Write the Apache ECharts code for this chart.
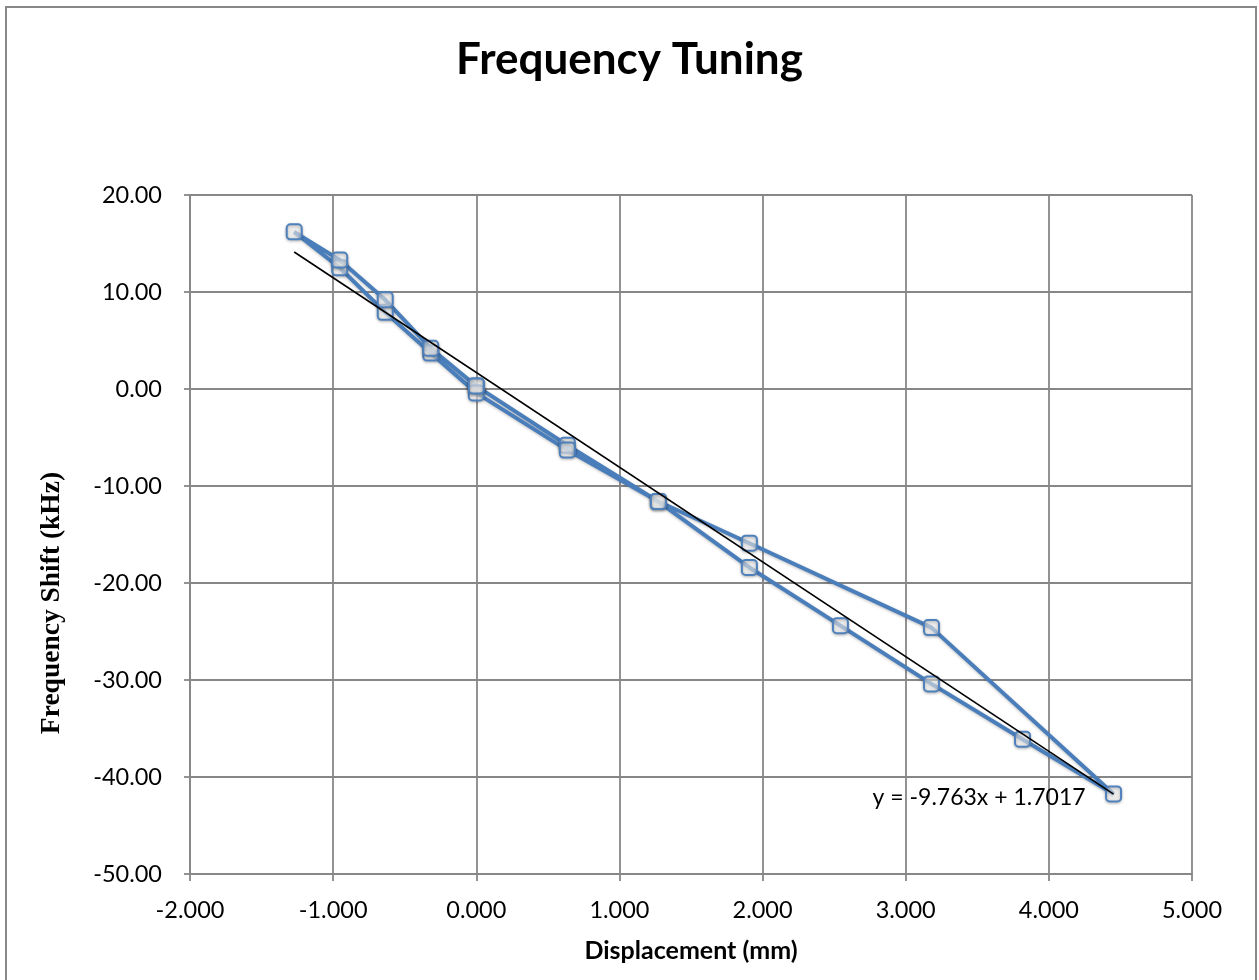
<!DOCTYPE html>
<html>
<head>
<meta charset="utf-8">
<script src="https://cdn.jsdelivr.net/npm/echarts@6/dist/echarts.min.js"></script>
<style>
html,body{margin:0;padding:0;background:#fff;}
#chart{width:1259px;height:980px;}
</style>
</head>
<body>
<div id="chart"></div>
<script>
// Displacement (mm) in measurement order (hysteresis loop)
var displacement = [0.000, 0.636, 1.272, 1.908, 2.544, 3.180, 3.816, 4.452, 3.180, 1.908, 1.272, 0.636, 0.000, -0.318, -0.636, -0.954, -1.272, -0.954, -0.636, -0.318, 0.000];
// Frequency shift (kHz)
var freqShift = [0.3, -5.8, -11.6, -18.4, -24.4, -30.4, -36.1, -41.75, -24.6, -15.9, -11.6, -6.3, -0.4, 3.7, 7.9, 12.5, 16.2, 13.3, 9.2, 4.2, 0.3];
// Linear trendline as printed on the chart
var trendSlope = -9.763;
var trendIntercept = 1.7017;
var trendLabel = 'y = -9.763x + 1.7017';
var titleText = 'Frequency Tuning';
var xAxisTitle = 'Displacement (mm)';
var yAxisTitle = 'Frequency Shift (kHz)';

var pts = displacement.map(function (x, i) { return [x, freqShift[i]]; });
var xMinData = Math.min.apply(null, displacement);
var xMaxData = Math.max.apply(null, displacement);
var trend = [[xMinData, trendSlope * xMinData + trendIntercept], [xMaxData, trendSlope * xMaxData + trendIntercept]];

var chart = echarts.init(document.getElementById('chart'), null, {renderer: 'canvas'});
var gridColor = '#878787';
var option = {
  animation: false,
  backgroundColor: '#fff',
  graphic: [{
    type: 'rect', shape: {x: 6, y: 7, width: 1250, height: 990},
    style: {fill: 'none', stroke: '#888888', lineWidth: 2}, z: -1
  }, {
    type: 'text', x: 52, y: 603, rotation: Math.PI / 2,
    style: {text: yAxisTitle, fontFamily: 'Liberation Serif', fontWeight: 'bold', fontSize: 27.5,
      fill: '#000', align: 'center', verticalAlign: 'middle'}
  }],
  title: {
    text: titleText, left: 'center', top: 33,
    textStyle: {fontFamily: 'Lato', fontWeight: 'bold', fontSize: 44, color: '#000'}
  },
  grid: {left: 190, top: 195, width: 1002, height: 679, containLabel: false},
  xAxis: {
    type: 'value', min: -2, max: 5, interval: 1,
    name: xAxisTitle, nameLocation: 'middle', nameGap: 64,
    nameTextStyle: {fontFamily: 'Lato', fontWeight: 'bold', fontSize: 25, color: '#000'},
    axisLine: {show: true, onZero: false, lineStyle: {color: gridColor, width: 1.8}},
    axisTick: {show: true, length: 7, lineStyle: {color: gridColor, width: 1.8}},
    axisLabel: {fontFamily: 'Lato', fontSize: 23.5, color: '#000', margin: 24,
      formatter: function (v) { return v.toFixed(3); }},
    splitLine: {show: true, lineStyle: {color: gridColor, width: 1.8}}
  },
  yAxis: {
    type: 'value', min: -50, max: 20, interval: 10,
    axisLine: {show: true, onZero: false, lineStyle: {color: gridColor, width: 1.8}},
    axisTick: {show: true, length: 6, lineStyle: {color: gridColor, width: 1.8}},
    axisLabel: {fontFamily: 'Lato', fontSize: 23.5, color: '#000', margin: 28,
      formatter: function (v) { return v.toFixed(2); }},
    splitLine: {show: true, lineStyle: {color: gridColor, width: 1.8}}
  },
  series: [{
    type: 'line', data: pts, z: 2,
    lineStyle: {color: '#4a7ebb', width: 4, shadowColor: 'rgba(0,0,0,0.25)', shadowBlur: 3, shadowOffsetY: 1},
    symbol: 'roundRect', symbolSize: 15, showAllSymbol: true,
    itemStyle: {color: 'rgba(255,255,255,0.55)', borderColor: '#4f81bd', borderWidth: 2,
      shadowColor: 'rgba(0,0,0,0.3)', shadowBlur: 3, shadowOffsetY: 1}
  }, {
    type: 'line', data: trend, z: 3, symbol: 'none',
    lineStyle: {color: '#000', width: 1.6}
  }, {
    type: 'scatter', z: 4, symbolSize: 0, silent: true,
    itemStyle: {opacity: 1, color: '#000'},
    data: [trend[1]],
    label: {show: true, position: 'left', distance: 28, offset: [0, 3], formatter: trendLabel,
      fontFamily: 'Lato', fontSize: 23, color: '#000', opacity: 1}
  }]
};
chart.setOption(option);
</script>
</body>
</html>
